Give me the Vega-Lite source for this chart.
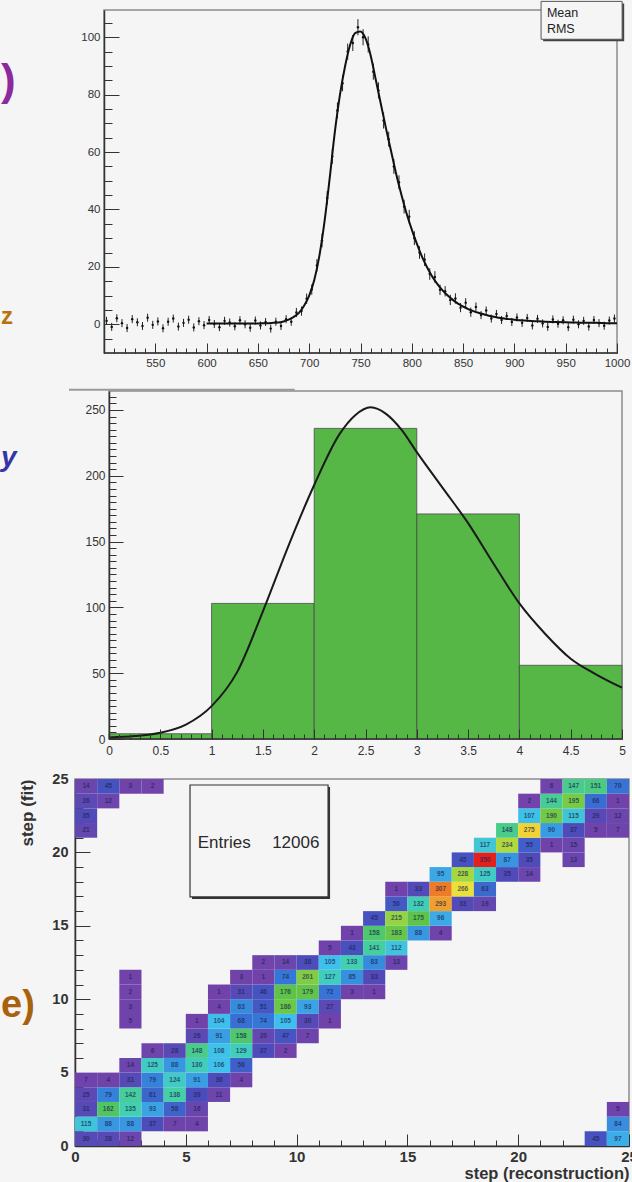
{
"$schema": "https://vega.github.io/schema/vega-lite/v6.json",
"padding": 0,
"background": "#f5f5f5",
"columns": 1,
"spacing": 14,
"config": {
  "view": {"stroke": "#8c8c8c", "strokeWidth": 1.5},
  "font": "Liberation Sans",
  "axis": {"grid": false, "domainColor": "#333", "domainWidth": 1.5, "tickColor": "#333", "tickWidth": 1, "labelColor": "#333", "labelFont": "Liberation Sans", "titleFont": "Liberation Sans", "labelFlush": false, "labelOverlap": false}
},
"datasets": {
  "p1pts": [
    {"x":502.5,"y":1.2,"e":1.4},{"x":507.5,"y":-0.9,"e":1.4},{"x":512.5,"y":2.1,"e":1.4},{"x":517.5,"y":0.4,"e":1.4},{"x":522.5,"y":-1.3,"e":1.4},{"x":527.5,"y":1.8,"e":1.4},{"x":532.5,"y":0.7,"e":1.4},{"x":537.5,"y":-0.6,"e":1.4},{"x":542.5,"y":2.3,"e":1.4},{"x":547.5,"y":-0.2,"e":1.4},
    {"x":552.5,"y":1.0,"e":1.4},{"x":557.5,"y":-1.4,"e":1.4},{"x":562.5,"y":0.9,"e":1.4},{"x":567.5,"y":2.0,"e":1.4},{"x":572.5,"y":-0.8,"e":1.4},{"x":577.5,"y":0.5,"e":1.4},{"x":582.5,"y":1.6,"e":1.4},{"x":587.5,"y":-1.1,"e":1.4},{"x":592.5,"y":1.1,"e":1.4},{"x":597.5,"y":-0.3,"e":1.4},
    {"x":602.5,"y":1.5,"e":1.4},{"x":607.5,"y":0.1,"e":1.4},{"x":612.5,"y":-1.0,"e":1.4},{"x":617.5,"y":1.2,"e":1.4},{"x":622.5,"y":0.6,"e":1.4},{"x":627.5,"y":-0.7,"e":1.4},{"x":632.5,"y":1.4,"e":1.4},{"x":637.5,"y":0.0,"e":1.4},{"x":642.5,"y":-1.2,"e":1.4},{"x":647.5,"y":1.3,"e":1.4},
    {"x":652.5,"y":-0.4,"e":1.4},{"x":657.5,"y":0.8,"e":1.4},{"x":662.5,"y":-1.5,"e":1.4},{"x":667.5,"y":0.9,"e":1.4},{"x":672.5,"y":-0.6,"e":1.4},{"x":677.5,"y":1.8,"e":1.4},{"x":682.5,"y":0.9,"e":1.4},{"x":687.5,"y":4.1,"e":1.6},{"x":692.5,"y":4.6,"e":1.6},{"x":697.5,"y":8.9,"e":1.8},
    {"x":702.5,"y":12.1,"e":1.8},{"x":707.5,"y":20.5,"e":2.2},{"x":712.5,"y":29.2,"e":2.4},{"x":717.5,"y":44.0,"e":2.4},{"x":722.5,"y":58.5,"e":2.6},{"x":727.5,"y":74.5,"e":2.8},{"x":732.5,"y":84.0,"e":2.8},{"x":737.5,"y":95.0,"e":2.8},{"x":742.5,"y":98.0,"e":2.8},{"x":747.5,"y":103.5,"e":2.8},
    {"x":752.5,"y":100.0,"e":2.8},{"x":757.5,"y":97.5,"e":2.8},{"x":762.5,"y":88.0,"e":2.8},{"x":767.5,"y":81.5,"e":2.8},{"x":772.5,"y":71.0,"e":2.8},{"x":777.5,"y":64.5,"e":2.6},{"x":782.5,"y":55.0,"e":2.6},{"x":787.5,"y":49.5,"e":2.4},{"x":792.5,"y":41.0,"e":2.4},{"x":797.5,"y":37.5,"e":2.4},
    {"x":802.5,"y":30.0,"e":2.4},{"x":807.5,"y":25.0,"e":2.2},{"x":812.5,"y":22.5,"e":2.2},{"x":817.5,"y":17.5,"e":2.0},{"x":822.5,"y":16.5,"e":2.0},{"x":827.5,"y":12.0,"e":1.8},{"x":832.5,"y":11.5,"e":1.8},{"x":837.5,"y":8.5,"e":1.8},{"x":842.5,"y":9.0,"e":1.8},{"x":847.5,"y":5.8,"e":1.6},
    {"x":852.5,"y":7.5,"e":1.6},{"x":857.5,"y":4.2,"e":1.6},{"x":862.5,"y":6.0,"e":1.6},{"x":867.5,"y":3.2,"e":1.4},{"x":872.5,"y":4.8,"e":1.4},{"x":877.5,"y":2.0,"e":1.4},{"x":882.5,"y":3.6,"e":1.4},{"x":887.5,"y":1.5,"e":1.4},{"x":892.5,"y":2.9,"e":1.4},{"x":897.5,"y":0.8,"e":1.4},
    {"x":902.5,"y":2.4,"e":1.4},{"x":907.5,"y":0.5,"e":1.4},{"x":912.5,"y":2.2,"e":1.4},{"x":917.5,"y":-0.4,"e":1.4},{"x":922.5,"y":1.9,"e":1.4},{"x":927.5,"y":0.3,"e":1.4},{"x":932.5,"y":-0.9,"e":1.4},{"x":937.5,"y":1.7,"e":1.4},{"x":942.5,"y":0.2,"e":1.4},{"x":947.5,"y":1.4,"e":1.4},
    {"x":952.5,"y":-1.0,"e":1.4},{"x":957.5,"y":1.6,"e":1.4},{"x":962.5,"y":0.0,"e":1.4},{"x":967.5,"y":1.2,"e":1.4},{"x":972.5,"y":-0.8,"e":1.4},{"x":977.5,"y":1.5,"e":1.4},{"x":982.5,"y":0.4,"e":1.4},{"x":987.5,"y":-0.5,"e":1.4},{"x":992.5,"y":1.3,"e":1.4},{"x":997.5,"y":2.0,"e":1.4}
  ],
  "p1fit": [
    {"x":600,"f":0.3},{"x":610,"f":0.3},{"x":620,"f":0.3},{"x":630,"f":0.3},{"x":640,"f":0.3},{"x":650,"f":0.3},{"x":655,"f":0.35},{"x":660,"f":0.4},{"x":665,"f":0.5},{"x":670,"f":0.6},
    {"x":675,"f":1.0},{"x":680,"f":1.6},{"x":685,"f":2.6},{"x":690,"f":4.0},{"x":695,"f":6.5},{"x":700,"f":10},{"x":705,"f":15.5},{"x":710,"f":24},{"x":715,"f":36},{"x":720,"f":51},
    {"x":725,"f":67},{"x":730,"f":80},{"x":735,"f":90},{"x":740,"f":97.5},{"x":745,"f":101.5},{"x":750,"f":102},{"x":755,"f":99.5},{"x":760,"f":93.5},{"x":765,"f":85},{"x":770,"f":76.5},
    {"x":775,"f":68},{"x":780,"f":60},{"x":785,"f":52},{"x":790,"f":45},{"x":795,"f":38.5},{"x":800,"f":33},{"x":805,"f":28},{"x":810,"f":23.5},{"x":815,"f":19.8},{"x":820,"f":16.6},
    {"x":825,"f":14},{"x":830,"f":11.8},{"x":835,"f":10},{"x":840,"f":8.5},{"x":845,"f":7.2},{"x":850,"f":6.2},{"x":855,"f":5.3},{"x":860,"f":4.6},{"x":865,"f":4.0},{"x":870,"f":3.5},
    {"x":875,"f":3.0},{"x":880,"f":2.6},{"x":885,"f":2.3},{"x":890,"f":2.0},{"x":895,"f":1.8},{"x":900,"f":1.6},{"x":910,"f":1.3},{"x":920,"f":1.1},{"x":930,"f":0.9},{"x":940,"f":0.8},
    {"x":950,"f":0.7},{"x":960,"f":0.6},{"x":970,"f":0.5},{"x":980,"f":0.5},{"x":990,"f":0.4},{"x":1000,"f":0.4}
  ],
  "p2bars": [
    {"lo":0,"hi":1,"n":4},{"lo":1,"hi":2,"n":103},{"lo":2,"hi":3,"n":236},{"lo":3,"hi":4,"n":171},{"lo":4,"hi":5,"n":56}
  ],
  "p2fit": [
    {"x":0,"f":1.2},{"x":0.25,"f":2.2},{"x":0.5,"f":4.8},{"x":0.75,"f":11},{"x":1.0,"f":25},{"x":1.25,"f":51},{"x":1.5,"f":97},{"x":1.75,"f":147},{"x":2.0,"f":193},{"x":2.25,"f":232},
    {"x":2.4,"f":246},{"x":2.55,"f":252},{"x":2.7,"f":247},{"x":2.85,"f":235},{"x":3.0,"f":218},{"x":3.25,"f":191},{"x":3.5,"f":164},{"x":3.75,"f":133},{"x":4.0,"f":103},{"x":4.25,"f":80},
    {"x":4.5,"f":61},{"x":4.75,"f":49},{"x":5.0,"f":39}
  ],
  "p3cells": [
    {"x":0,"x2":1,"y":0,"y2":1,"n":30},{"x":1,"x2":2,"y":0,"y2":1,"n":28},{"x":2,"x2":3,"y":0,"y2":1,"n":12},{"x":23,"x2":24,"y":0,"y2":1,"n":45},{"x":24,"x2":25,"y":0,"y2":1,"n":97},
    {"x":0,"x2":1,"y":1,"y2":2,"n":115},{"x":1,"x2":2,"y":1,"y2":2,"n":88},{"x":2,"x2":3,"y":1,"y2":2,"n":88},{"x":3,"x2":4,"y":1,"y2":2,"n":37},{"x":4,"x2":5,"y":1,"y2":2,"n":7},{"x":5,"x2":6,"y":1,"y2":2,"n":4},{"x":24,"x2":25,"y":1,"y2":2,"n":84},
    {"x":0,"x2":1,"y":2,"y2":3,"n":31},{"x":1,"x2":2,"y":2,"y2":3,"n":162},{"x":2,"x2":3,"y":2,"y2":3,"n":135},{"x":3,"x2":4,"y":2,"y2":3,"n":93},{"x":4,"x2":5,"y":2,"y2":3,"n":58},{"x":5,"x2":6,"y":2,"y2":3,"n":16},{"x":24,"x2":25,"y":2,"y2":3,"n":5},
    {"x":0,"x2":1,"y":3,"y2":4,"n":25},{"x":1,"x2":2,"y":3,"y2":4,"n":79},{"x":2,"x2":3,"y":3,"y2":4,"n":142},{"x":3,"x2":4,"y":3,"y2":4,"n":61},{"x":4,"x2":5,"y":3,"y2":4,"n":138},{"x":5,"x2":6,"y":3,"y2":4,"n":39},{"x":6,"x2":7,"y":3,"y2":4,"n":11},
    {"x":0,"x2":1,"y":4,"y2":5,"n":7},{"x":1,"x2":2,"y":4,"y2":5,"n":4},{"x":2,"x2":3,"y":4,"y2":5,"n":31},{"x":3,"x2":4,"y":4,"y2":5,"n":79},{"x":4,"x2":5,"y":4,"y2":5,"n":124},{"x":5,"x2":6,"y":4,"y2":5,"n":91},{"x":6,"x2":7,"y":4,"y2":5,"n":36},{"x":7,"x2":8,"y":4,"y2":5,"n":4},
    {"x":2,"x2":3,"y":5,"y2":6,"n":14},{"x":3,"x2":4,"y":5,"y2":6,"n":125},{"x":4,"x2":5,"y":5,"y2":6,"n":88},{"x":5,"x2":6,"y":5,"y2":6,"n":130},{"x":6,"x2":7,"y":5,"y2":6,"n":106},{"x":7,"x2":8,"y":5,"y2":6,"n":56},
    {"x":3,"x2":4,"y":6,"y2":7,"n":6},{"x":4,"x2":5,"y":6,"y2":7,"n":28},{"x":5,"x2":6,"y":6,"y2":7,"n":148},{"x":6,"x2":7,"y":6,"y2":7,"n":108},{"x":7,"x2":8,"y":6,"y2":7,"n":129},{"x":8,"x2":9,"y":6,"y2":7,"n":37},{"x":9,"x2":10,"y":6,"y2":7,"n":2},
    {"x":5,"x2":6,"y":7,"y2":8,"n":26},{"x":6,"x2":7,"y":7,"y2":8,"n":91},{"x":7,"x2":8,"y":7,"y2":8,"n":158},{"x":8,"x2":9,"y":7,"y2":8,"n":20},{"x":9,"x2":10,"y":7,"y2":8,"n":47},{"x":10,"x2":11,"y":7,"y2":8,"n":7},
    {"x":2,"x2":3,"y":8,"y2":9,"n":5},{"x":5,"x2":6,"y":8,"y2":9,"n":1},{"x":6,"x2":7,"y":8,"y2":9,"n":104},{"x":7,"x2":8,"y":8,"y2":9,"n":68},{"x":8,"x2":9,"y":8,"y2":9,"n":74},{"x":9,"x2":10,"y":8,"y2":9,"n":105},{"x":10,"x2":11,"y":8,"y2":9,"n":30},{"x":11,"x2":12,"y":8,"y2":9,"n":1},
    {"x":2,"x2":3,"y":9,"y2":10,"n":3},{"x":6,"x2":7,"y":9,"y2":10,"n":4},{"x":7,"x2":8,"y":9,"y2":10,"n":83},{"x":8,"x2":9,"y":9,"y2":10,"n":51},{"x":9,"x2":10,"y":9,"y2":10,"n":186},{"x":10,"x2":11,"y":9,"y2":10,"n":93},{"x":11,"x2":12,"y":9,"y2":10,"n":27},
    {"x":2,"x2":3,"y":10,"y2":11,"n":2},{"x":6,"x2":7,"y":10,"y2":11,"n":1},{"x":7,"x2":8,"y":10,"y2":11,"n":31},{"x":8,"x2":9,"y":10,"y2":11,"n":46},{"x":9,"x2":10,"y":10,"y2":11,"n":176},{"x":10,"x2":11,"y":10,"y2":11,"n":179},{"x":11,"x2":12,"y":10,"y2":11,"n":72},{"x":12,"x2":13,"y":10,"y2":11,"n":3},{"x":13,"x2":14,"y":10,"y2":11,"n":1},
    {"x":2,"x2":3,"y":11,"y2":12,"n":1},{"x":7,"x2":8,"y":11,"y2":12,"n":3},{"x":8,"x2":9,"y":11,"y2":12,"n":1},{"x":9,"x2":10,"y":11,"y2":12,"n":74},{"x":10,"x2":11,"y":11,"y2":12,"n":201},{"x":11,"x2":12,"y":11,"y2":12,"n":127},{"x":12,"x2":13,"y":11,"y2":12,"n":85},{"x":13,"x2":14,"y":11,"y2":12,"n":33},
    {"x":8,"x2":9,"y":12,"y2":13,"n":2},{"x":9,"x2":10,"y":12,"y2":13,"n":14},{"x":10,"x2":11,"y":12,"y2":13,"n":38},{"x":11,"x2":12,"y":12,"y2":13,"n":105},{"x":12,"x2":13,"y":12,"y2":13,"n":133},{"x":13,"x2":14,"y":12,"y2":13,"n":83},{"x":14,"x2":15,"y":12,"y2":13,"n":13},
    {"x":11,"x2":12,"y":13,"y2":14,"n":5},{"x":12,"x2":13,"y":13,"y2":14,"n":43},{"x":13,"x2":14,"y":13,"y2":14,"n":141},{"x":14,"x2":15,"y":13,"y2":14,"n":112},
    {"x":12,"x2":13,"y":14,"y2":15,"n":1},{"x":13,"x2":14,"y":14,"y2":15,"n":158},{"x":14,"x2":15,"y":14,"y2":15,"n":183},{"x":15,"x2":16,"y":14,"y2":15,"n":88},{"x":16,"x2":17,"y":14,"y2":15,"n":4},
    {"x":13,"x2":14,"y":15,"y2":16,"n":45},{"x":14,"x2":15,"y":15,"y2":16,"n":215},{"x":15,"x2":16,"y":15,"y2":16,"n":175},{"x":16,"x2":17,"y":15,"y2":16,"n":96},
    {"x":14,"x2":15,"y":16,"y2":17,"n":50},{"x":15,"x2":16,"y":16,"y2":17,"n":132},{"x":16,"x2":17,"y":16,"y2":17,"n":293},{"x":17,"x2":18,"y":16,"y2":17,"n":33},{"x":18,"x2":19,"y":16,"y2":17,"n":19},
    {"x":14,"x2":15,"y":17,"y2":18,"n":1},{"x":15,"x2":16,"y":17,"y2":18,"n":33},{"x":16,"x2":17,"y":17,"y2":18,"n":307},{"x":17,"x2":18,"y":17,"y2":18,"n":266},{"x":18,"x2":19,"y":17,"y2":18,"n":63},
    {"x":16,"x2":17,"y":18,"y2":19,"n":95},{"x":17,"x2":18,"y":18,"y2":19,"n":228},{"x":18,"x2":19,"y":18,"y2":19,"n":125},{"x":19,"x2":20,"y":18,"y2":19,"n":35},{"x":20,"x2":21,"y":18,"y2":19,"n":14},
    {"x":17,"x2":18,"y":19,"y2":20,"n":45},{"x":18,"x2":19,"y":19,"y2":20,"n":350},{"x":19,"x2":20,"y":19,"y2":20,"n":87},{"x":20,"x2":21,"y":19,"y2":20,"n":35},{"x":22,"x2":23,"y":19,"y2":20,"n":13},
    {"x":18,"x2":19,"y":20,"y2":21,"n":117},{"x":19,"x2":20,"y":20,"y2":21,"n":234},{"x":20,"x2":21,"y":20,"y2":21,"n":55},{"x":21,"x2":22,"y":20,"y2":21,"n":1},{"x":22,"x2":23,"y":20,"y2":21,"n":15},
    {"x":0,"x2":1,"y":21,"y2":22,"n":21},{"x":19,"x2":20,"y":21,"y2":22,"n":148},{"x":20,"x2":21,"y":21,"y2":22,"n":275},{"x":21,"x2":22,"y":21,"y2":22,"n":90},{"x":22,"x2":23,"y":21,"y2":22,"n":37},{"x":23,"x2":24,"y":21,"y2":22,"n":5},{"x":24,"x2":25,"y":21,"y2":22,"n":7},
    {"x":0,"x2":1,"y":22,"y2":23,"n":35},{"x":20,"x2":21,"y":22,"y2":23,"n":107},{"x":21,"x2":22,"y":22,"y2":23,"n":190},{"x":22,"x2":23,"y":22,"y2":23,"n":115},{"x":23,"x2":24,"y":22,"y2":23,"n":29},{"x":24,"x2":25,"y":22,"y2":23,"n":12},
    {"x":0,"x2":1,"y":23,"y2":24,"n":26},{"x":1,"x2":2,"y":23,"y2":24,"n":12},{"x":20,"x2":21,"y":23,"y2":24,"n":2},{"x":21,"x2":22,"y":23,"y2":24,"n":144},{"x":22,"x2":23,"y":23,"y2":24,"n":195},{"x":23,"x2":24,"y":23,"y2":24,"n":66},{"x":24,"x2":25,"y":23,"y2":24,"n":1},
    {"x":0,"x2":1,"y":24,"y2":25,"n":14},{"x":1,"x2":2,"y":24,"y2":25,"n":45},{"x":2,"x2":3,"y":24,"y2":25,"n":3},{"x":3,"x2":4,"y":24,"y2":25,"n":2},{"x":21,"x2":22,"y":24,"y2":25,"n":6},{"x":22,"x2":23,"y":24,"y2":25,"n":147},{"x":23,"x2":24,"y":24,"y2":25,"n":151},{"x":24,"x2":25,"y":24,"y2":25,"n":70}
  ]
},
"concat": [
   {
    "width": 542, "height": 343,
    "view": {"stroke": null},
    "resolve": {"axis": {"x": "independent", "y": "independent"}},
    "layer": [
     {"data": {"values": [{"a": 500, "b": 1000, "c": -10, "d": 109.5}]}, "mark": {"type": "rect", "fillOpacity": 0, "stroke": "#8c8c8c", "strokeWidth": 1.5},
      "encoding": {"x": {"field": "a", "type": "quantitative", "axis": null}, "x2": {"field": "b"}, "y": {"field": "c", "type": "quantitative", "axis": null}, "y2": {"field": "d"}}},
     {"data": {"values": [{"a": 500, "b": 1000, "c": -10}]}, "mark": {"type": "rule", "color": "#333", "strokeWidth": 1.5},
      "encoding": {
       "x": {"field": "a", "type": "quantitative",
             "axis": {"orient": "bottom", "title": null, "zindex": 1, "domain": false, "labelOverlap": false, "labelFlush": false,
                      "values": [500,510,520,530,540,550,560,570,580,590,600,610,620,630,640,650,660,670,680,690,700,710,720,730,740,750,760,770,780,790,800,810,820,830,840,850,860,870,880,890,900,910,920,930,940,950,960,970,980,990,1000],
                      "labelExpr": "''", "tickSize": -5, "labelPadding": 13.7, "labelFontSize": 11.5}},
       "x2": {"field": "b"},
       "y": {"field": "c", "type": "quantitative",
             "axis": {"orient": "left", "title": null, "zindex": 1, "domain": false, "labels": false, "offset": -29,
                      "values": [-5,0,5,10,15,20,25,30,35,40,45,50,55,60,65,70,75,80,85,90,95,100,105],
                      "tickSize": -8}}}},
     {"data": {"name": "p1pts"}, "mark": {"type": "errorbar", "color": "#222", "thickness": 1},
      "encoding": {"x": {"field": "x", "type": "quantitative", "axis": null}, "y": {"field": "y", "type": "quantitative", "axis": null}, "yError": {"field": "e"}}},
     {"data": {"name": "p1pts"}, "mark": {"type": "point", "filled": true, "size": 6, "color": "#111", "opacity": 1},
      "encoding": {"x": {"field": "x", "type": "quantitative", "axis": null}, "y": {"field": "y", "type": "quantitative", "axis": null}}},
     {"data": {"name": "p1fit"}, "mark": {"type": "line", "color": "#111", "strokeWidth": 2, "interpolate": "monotone"},
      "encoding": {
       "x": {"field": "x", "type": "quantitative", "scale": {"domain": [471.73, 1000], "nice": false, "zero": false},
             "axis": {"orient": "bottom", "title": null, "zindex": 1, "format": "d", "domain": false, "labelOverlap": false, "labelFlush": false,
                      "values": [500,550,600,650,700,750,800,850,900,950,1000],
                      "labelExpr": "datum.value > 500 ? datum.label : ''",
                      "tickSize": -10, "labelPadding": 14, "labelFontSize": 11.5}},
       "y": {"field": "f", "type": "quantitative", "scale": {"domain": [-10, 109.5], "nice": false, "zero": false},
             "axis": {"orient": "left", "title": null, "zindex": 1, "format": "d", "offset": -29, "labelOverlap": false, "labelFlush": false,
                      "values": [0,20,40,60,80,100],
                      "tickSize": -15, "labelPadding": 19, "labelFontSize": 11.5}}}},
     {"data": {"values": [{"a": 928, "b": 1007, "c": 98.6, "d": 111.8}]}, "mark": {"type": "rect", "fill": "#444"},
      "encoding": {"x": {"field": "a", "type": "quantitative", "axis": null}, "x2": {"field": "b"}, "y": {"field": "c", "type": "quantitative", "axis": null}, "y2": {"field": "d"}}},
     {"data": {"values": [{"a": 926, "b": 1005, "c": 99.3, "d": 112.5}]}, "mark": {"type": "rect", "fill": "#f5f5f5", "stroke": "#555", "strokeWidth": 1},
      "encoding": {"x": {"field": "a", "type": "quantitative", "axis": null}, "x2": {"field": "b"}, "y": {"field": "c", "type": "quantitative", "axis": null}, "y2": {"field": "d"}}},
     {"data": {"values": [{"a": 931.7, "c": 108.4, "t": "Mean"}, {"a": 931.7, "c": 102.8, "t": "RMS"}]},
      "mark": {"type": "text", "align": "left", "baseline": "middle", "fontSize": 12.5, "color": "#222"},
      "encoding": {"x": {"field": "a", "type": "quantitative", "axis": null}, "y": {"field": "c", "type": "quantitative", "axis": null}, "text": {"field": "t"}}},
     {"data": {"values": [{"a": 399.6, "c": 84.3, "t": ")"}]},
      "mark": {"type": "text", "align": "left", "baseline": "middle", "fontSize": 44, "fontWeight": "bold", "color": "#8a2a9c"},
      "encoding": {"x": {"field": "a", "type": "quantitative", "axis": null}, "y": {"field": "c", "type": "quantitative", "axis": null}, "text": {"field": "t"}}},
     {"data": {"values": [{"a": 399.6, "c": 2.4, "t": "z"}]},
      "mark": {"type": "text", "align": "left", "baseline": "middle", "fontSize": 24, "fontWeight": "bold", "color": "#b8720a"},
      "encoding": {"x": {"field": "a", "type": "quantitative", "axis": null}, "y": {"field": "c", "type": "quantitative", "axis": null}, "text": {"field": "t"}}}
    ]
   },
   {
    "width": 547, "height": 348,
    "view": {"stroke": null},
    "resolve": {"axis": {"x": "independent", "y": "independent"}},
    "layer": [
     {"data": {"values": [{"a": 0, "b": 5, "c": 0, "d": 264.4}]}, "mark": {"type": "rect", "fillOpacity": 0, "stroke": "#8c8c8c", "strokeWidth": 1.5},
      "encoding": {"x": {"field": "a", "type": "quantitative", "axis": null}, "x2": {"field": "b"}, "y": {"field": "c", "type": "quantitative", "axis": null}, "y2": {"field": "d"}}},
     {"data": {"name": "p2bars"}, "mark": {"type": "rect", "fill": "#56b646", "stroke": "#4a4a4a", "strokeWidth": 0.8},
      "encoding": {
       "x": {"field": "lo", "type": "quantitative", "scale": {"domain": [-0.3314, 5], "nice": false, "zero": false},
             "axis": {"orient": "bottom", "title": null, "zindex": 1, "format": "~g", "domain": false, "labelOverlap": false, "labelFlush": false,
                      "values": [0,0.5,1,1.5,2,2.5,3,3.5,4,4.5,5],
                      "tickSize": -10, "labelPadding": 16, "labelFontSize": 12}},
       "x2": {"field": "hi"},
       "y": {"field": "n", "type": "quantitative", "scale": {"domain": [0, 264.4], "nice": false, "zero": false},
             "axis": {"orient": "left", "title": null, "zindex": 1, "format": "d", "offset": -34, "labelOverlap": false, "labelFlush": false,
                      "values": [0,50,100,150,200,250],
                      "tickSize": -14, "labelPadding": 18, "labelFontSize": 12}},
       "y2": {"datum": 0}}},
     {"data": {"values": [{"a": 0, "b": 5, "c": 0}]}, "mark": {"type": "rule", "color": "#333", "strokeWidth": 1.5},
      "encoding": {
       "x": {"field": "a", "type": "quantitative",
             "axis": {"orient": "bottom", "title": null, "zindex": 1, "domain": false, "labels": false,
                      "values": [0,0.1,0.2,0.3,0.4,0.5,0.6,0.7,0.8,0.9,1,1.1,1.2,1.3,1.4,1.5,1.6,1.7,1.8,1.9,2,2.1,2.2,2.3,2.4,2.5,2.6,2.7,2.8,2.9,3,3.1,3.2,3.3,3.4,3.5,3.6,3.7,3.8,3.9,4,4.1,4.2,4.3,4.4,4.5,4.6,4.7,4.8,4.9,5],
                      "tickSize": -5}},
       "x2": {"field": "b"},
       "y": {"field": "c", "type": "quantitative",
             "axis": {"orient": "left", "title": null, "zindex": 1, "domain": false, "labels": false, "offset": -34,
                      "values": [0,5,10,15,20,25,30,35,40,45,50,55,60,65,70,75,80,85,90,95,100,105,110,115,120,125,130,135,140,145,150,155,160,165,170,175,180,185,190,195,200,205,210,215,220,225,230,235,240,245,250,255,260],
                      "tickSize": -7}}}},
     {"data": {"name": "p2fit"}, "mark": {"type": "line", "color": "#1a1a1a", "strokeWidth": 2, "interpolate": "monotone"},
      "encoding": {"x": {"field": "x", "type": "quantitative", "axis": null}, "y": {"field": "f", "type": "quantitative", "axis": null}}},
     {"data": {"values": [{"a": -0.39, "b": 1.81, "c": 265.4}]}, "mark": {"type": "rule", "color": "#9a9a9a", "strokeWidth": 2},
      "encoding": {"x": {"field": "a", "type": "quantitative", "axis": null}, "x2": {"field": "b"}, "y": {"field": "c", "type": "quantitative", "axis": null}}},
     {"data": {"values": [{"a": -1.0526, "c": 213.7, "t": "y"}]},
      "mark": {"type": "text", "align": "left", "baseline": "middle", "fontSize": 28, "fontWeight": "bold", "fontStyle": "italic", "color": "#3434a6"},
      "encoding": {"x": {"field": "a", "type": "quantitative", "axis": null}, "y": {"field": "c", "type": "quantitative", "axis": null}, "text": {"field": "t"}}}
    ]
   },
 {
  "width": 554, "height": 367,
  "resolve": {"axis": {"x": "independent", "y": "independent"}},
  "layer": [
   {"data": {"name": "p3cells"}, "mark": {"type": "rect"},
    "encoding": {
     "x": {"field": "x", "type": "quantitative", "scale": {"domain": [0, 25], "nice": false, "zero": false},
           "axis": {"orient": "bottom", "title": "step (reconstruction)", "titleAnchor": "end", "titleFontSize": 16.5, "titleFontWeight": "bold", "titleColor": "#333", "titlePadding": 1, "labelOverlap": false, "labelFlush": false,
                    "values": [0,5,10,15,20,25],
                    "tickSize": -12, "labelPadding": 15, "labelFontSize": 15, "labelFontWeight": "bold"}},
     "x2": {"field": "x2"},
     "y": {"field": "y", "type": "quantitative", "scale": {"domain": [0, 25], "nice": false, "zero": false},
           "axis": {"orient": "left", "title": "step (fit)", "titleAnchor": "end", "titleFontSize": 17, "titleFontWeight": "bold", "titleColor": "#333", "titlePadding": 15, "labelOverlap": false, "labelFlush": false,
                    "values": [0,5,10,15,20,25],
                    "tickSize": -15, "labelPadding": 22, "labelFontSize": 14.5, "labelFontWeight": "bold"}},
     "y2": {"field": "y2"},
     "color": {"field": "n", "type": "quantitative", "legend": null,
               "scale": {"domain": [0, 15, 40, 75, 105, 135, 170, 230, 270, 300, 350],
                         "range": ["#7242aa", "#6a46ae", "#4a4cbc", "#3478d8", "#3ec0ec", "#42d0b0", "#56c24a", "#a8d840", "#f0e23a", "#f08a2a", "#e4201c"],
                         "interpolate": "rgb"}}}},
   {"data": {"name": "p3cells"}, "mark": {"type": "text", "fontSize": 6.5, "fontWeight": "bold", "color": "#1b2450", "opacity": 0.7, "dx": 11.08, "dy": -7.35, "align": "center", "baseline": "middle"},
    "encoding": {
     "x": {"field": "x", "type": "quantitative",
           "axis": {"orient": "bottom", "title": null, "domain": false, "labels": false, "values": [0,1,2,3,4,5,6,7,8,9,10,11,12,13,14,15,16,17,18,19,20,21,22,23,24,25], "tickSize": -6}},
     "y": {"field": "y", "type": "quantitative",
           "axis": {"orient": "left", "title": null, "domain": false, "labels": false, "values": [0,1,2,3,4,5,6,7,8,9,10,11,12,13,14,15,16,17,18,19,20,21,22,23,24,25], "tickSize": -8}},
     "text": {"field": "n", "type": "quantitative"}}},
   {"data": {"values": [{"a": 5.28, "b": 11.51, "c": 16.82, "d": 24.45}]}, "mark": {"type": "rect", "fill": "#333"},
    "encoding": {"x": {"field": "a", "type": "quantitative", "axis": null}, "x2": {"field": "b"}, "y": {"field": "c", "type": "quantitative", "axis": null}, "y2": {"field": "d"}}},
   {"data": {"values": [{"a": 5.19, "b": 11.42, "c": 16.97, "d": 24.59}]}, "mark": {"type": "rect", "fill": "#f5f5f5", "stroke": "#333", "strokeWidth": 1.2},
    "encoding": {"x": {"field": "a", "type": "quantitative", "axis": null}, "x2": {"field": "b"}, "y": {"field": "c", "type": "quantitative", "axis": null}, "y2": {"field": "d"}}},
   {"data": {"values": [{"a": 5.54, "c": 20.67, "t": "Entries"}]},
    "mark": {"type": "text", "align": "left", "baseline": "middle", "fontSize": 17, "color": "#2a2a2a"},
    "encoding": {"x": {"field": "a", "type": "quantitative", "axis": null}, "y": {"field": "c", "type": "quantitative", "axis": null}, "text": {"field": "t"}}},
   {"data": {"values": [{"a": 11.03, "c": 20.67, "t": "12006"}]},
    "mark": {"type": "text", "align": "right", "baseline": "middle", "fontSize": 17, "color": "#2a2a2a"},
    "encoding": {"x": {"field": "a", "type": "quantitative", "axis": null}, "y": {"field": "c", "type": "quantitative", "axis": null}, "text": {"field": "t"}}},
   {"data": {"values": [{"a": -3.339, "c": 9.56, "t": "e)"}]},
    "mark": {"type": "text", "align": "left", "baseline": "middle", "fontSize": 38, "fontWeight": "bold", "color": "#a8620e"},
    "encoding": {"x": {"field": "a", "type": "quantitative", "axis": null}, "y": {"field": "c", "type": "quantitative", "axis": null}, "text": {"field": "t"}}}
  ]
 }
]
}
